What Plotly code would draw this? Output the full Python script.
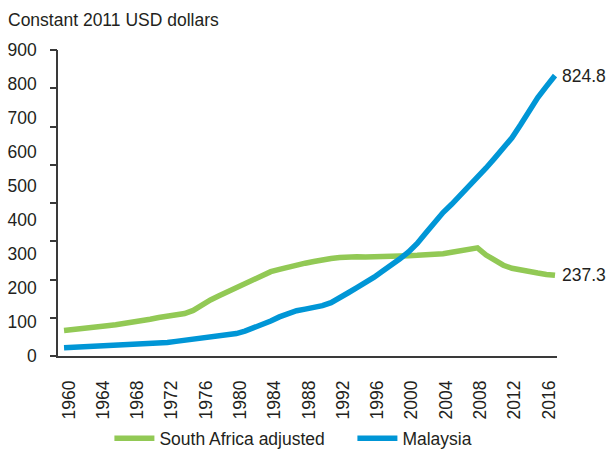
import plotly.graph_objects as go

years = list(range(1960, 2018))

south_africa = [75, 77, 80, 83, 86, 89, 92, 95, 99, 103,
                108, 113, 117, 120, 125, 134, 150, 165, 177, 189,
                201, 213, 226, 238, 248, 255, 262, 268, 273, 278,
                284, 287, 290, 292, 292, 291, 291, 292, 293, 294,
                295, 296, 297, 299, 301, 305, 309, 313, 318, 297,
                280, 267, 258, 252, 248, 244, 240, 237.3]

malaysia = [24, 25, 26, 27, 28, 29, 30, 31, 32, 34,
            36, 38, 40, 43, 46, 49, 52, 55, 58, 62,
            66, 73, 82, 92, 103, 115, 126, 133, 138, 141,
            148, 157, 170, 186, 201, 215, 232, 250, 266, 286,
            306, 331, 362, 395, 422, 446, 472, 498, 525, 553,
            582, 612, 642, 680, 722, 760, 793, 824.8]

x_tick_years = list(range(1960, 2017, 4))
x_tick_labels = [str(y) for y in x_tick_years]
y_tick_vals = list(range(0, 901, 100))
y_tick_labels = [str(v) for v in y_tick_vals]
y_mark_vals = list(range(0, 801, 100))

GREEN = "#92C955"
BLUE = "#0096D6"
AXIS = "#3a3a3a"
TEXT = "#231f20"
FONT = "Liberation Sans, Arial, sans-serif"
FS = 17.5

fig = go.Figure()
fig.add_trace(go.Scatter(x=years, y=south_africa, mode="lines", name="South Africa adjusted",
                         line=dict(color=GREEN, width=5.5)))
fig.add_trace(go.Scatter(x=years, y=malaysia, mode="lines", name="Malaysia",
                         line=dict(color=BLUE, width=5.5)))
fig.add_trace(go.Scatter(x=[None], y=[None], xaxis="x2", yaxis="y2", showlegend=False,
                         hoverinfo="skip", mode="lines"))

for series in (malaysia, south_africa):
    fig.add_annotation(x=years[-1], y=series[-1], text=f"{series[-1]:.1f}", xref="x", yref="y",
                       xanchor="left", yanchor="middle", xshift=5, showarrow=False,
                       font=dict(size=FS, color=TEXT, family=FONT))

fig.update_layout(
    width=607, height=461,
    margin=dict(l=58, r=50, t=50, b=105, autoexpand=False),
    paper_bgcolor="white", plot_bgcolor="white",
    font=dict(family=FONT, size=FS, color=TEXT),
    title=dict(text="Constant 2011 USD dollars", x=8 / 607, xanchor="left", xref="container",
               y=1 - 20 / 461, yanchor="middle", yref="container",
               font=dict(size=FS, color=TEXT, family=FONT)),
    xaxis=dict(range=[1959.3, 2017.23], showline=True, linecolor=AXIS, linewidth=1.5,
               showgrid=False, zeroline=False, ticks="", showticklabels=False, automargin=False),
    xaxis2=dict(overlaying="x", anchor="y", side="bottom", range=[1958.72, 2016.95],
                tickvals=x_tick_years, ticktext=x_tick_labels, tickangle=-90,
                showline=False, showgrid=False, zeroline=False, ticks="", automargin=False,
                ticklabelstandoff=20, tickfont=dict(size=FS, color=TEXT, family=FONT)),
    yaxis=dict(range=[0, 900], tickvals=y_tick_vals, ticktext=y_tick_labels,
               showline=True, linecolor=AXIS, linewidth=1.5, showgrid=False, zeroline=False,
               ticks="", ticklabelstandoff=16, automargin=False,
               tickfont=dict(size=FS, color=TEXT, family=FONT)),
    yaxis2=dict(overlaying="y", anchor="x", side="left", range=[0, 800], tickvals=y_mark_vals,
                ticks="outside", ticklen=7, tickwidth=1.5, tickcolor=AXIS, automargin=False,
                showticklabels=False, showline=False, showgrid=False, zeroline=False),
    legend=dict(orientation="h", x=0.59, xanchor="center", y=-0.269, yanchor="middle",
                font=dict(size=FS, color=TEXT, family=FONT), entrywidth=188,
                itemwidth=40, tracegroupgap=0, bgcolor="rgba(0,0,0,0)"),
    showlegend=True,
)

fig.write_html("out.html", config={"displayModeBar": False},
               post_script="document.body.style.margin='0';document.body.style.padding='0';")
